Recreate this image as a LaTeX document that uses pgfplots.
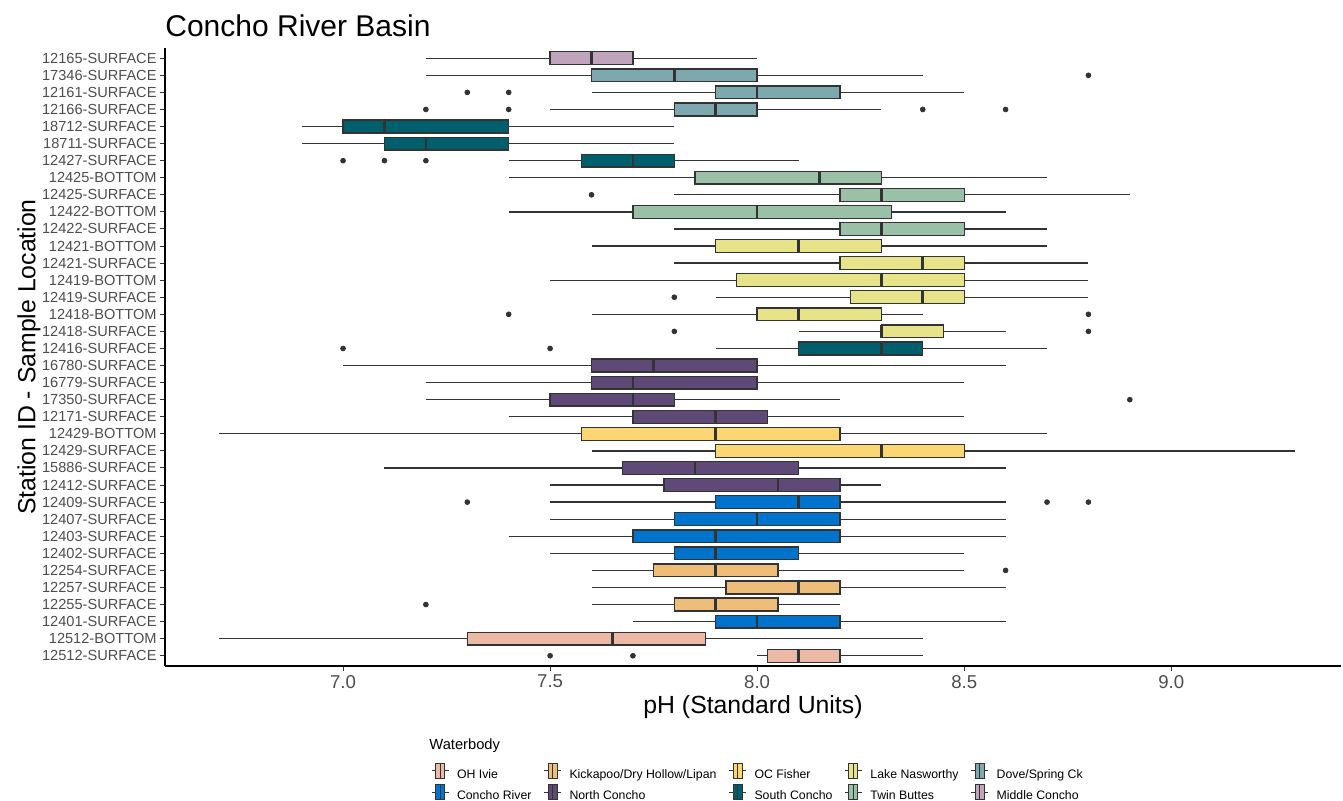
\documentclass[border=0pt]{standalone}
\usepackage{fontspec}
\setmainfont{Liberation Sans}
\usepackage{pgfplots}
\pgfplotsset{compat=1.18}
\usepgfplotslibrary{statistics}

\definecolor{gray20}{HTML}{333333}
\definecolor{gray30}{HTML}{4D4D4D}
\definecolor{ohivie}{HTML}{EBB9A6}
\definecolor{kickapoo}{HTML}{EDBD7A}
\definecolor{ocfisher}{HTML}{FBD672}
\definecolor{nasworthy}{HTML}{E7E388}
\definecolor{dovespring}{HTML}{7CA8AE}
\definecolor{conchoriver}{HTML}{0073CC}
\definecolor{northconcho}{HTML}{5F4A77}
\definecolor{southconcho}{HTML}{005F6D}
\definecolor{twinbuttes}{HTML}{9BC0A8}
\definecolor{middleconcho}{HTML}{BFA4BB}

% one box: position, colour, lower whisker, lower quartile, median, upper quartile, upper whisker
\newcommand{\bx}[7]{%
  \addplot[forget plot, fill=#2, draw=gray20, line width=0.65pt,
    boxplot prepared={draw position=#1, lower whisker=#3, lower quartile=#4,
      median=#5, upper quartile=#6, upper whisker=#7}] coordinates {};}

% legend key in the ggplot way
\newcommand{\wbkey}[1]{%
  \draw[gray20, line width=0.5pt] (0pt,2.2pt) -- (8.5pt,2.2pt);
  \draw[gray20, line width=0.5pt, fill=#1] (2pt,-1.5pt) rectangle (6.5pt,5.9pt);
  \draw[gray20, line width=0.5pt] (4.25pt,-1.5pt) -- (4.25pt,5.9pt);}

\begin{document}
\begin{tikzpicture}
\path[use as bounding box] (0,0) rectangle (671.5pt,-400.5pt);
\begin{axis}[
  at={(82.5pt,-24pt)}, anchor=north west,
  scale only axis, width=588pt, height=309pt,
  clip=false,
  xmin=6.57, xmax=9.41, ymin=0.4, ymax=36.6,
  axis lines=left, axis line style={-, black, line width=0.8pt},
  tick align=outside, major tick length=2.5pt,
  tick style={gray20, line width=0.5pt},
  xtick={7,7.5,8,8.5,9}, xticklabels={7.0,7.5,8.0,8.5,9.0},
  xticklabel style={font=\fontsize{9.3pt}{10pt}\selectfont, text=gray30, yshift=1.5pt},
  ytick={1,...,36},
  yticklabels={12512-SURFACE,12512-BOTTOM,12401-SURFACE,12255-SURFACE,12257-SURFACE,
    12254-SURFACE,12402-SURFACE,12403-SURFACE,12407-SURFACE,12409-SURFACE,
    12412-SURFACE,15886-SURFACE,12429-SURFACE,12429-BOTTOM,12171-SURFACE,
    17350-SURFACE,16779-SURFACE,16780-SURFACE,12416-SURFACE,12418-SURFACE,
    12418-BOTTOM,12419-SURFACE,12419-BOTTOM,12421-SURFACE,12421-BOTTOM,
    12422-SURFACE,12422-BOTTOM,12425-SURFACE,12425-BOTTOM,12427-SURFACE,
    18711-SURFACE,18712-SURFACE,12166-SURFACE,12161-SURFACE,17346-SURFACE,
    12165-SURFACE},
  yticklabel style={font=\fontsize{7.3pt}{8pt}\selectfont, text=gray30, xshift=1.8pt},
  xlabel={pH (Standard Units)},
  xlabel style={at={(axis description cs:0.5,-0.066)}, anchor=center,
    font=\fontsize{12.4pt}{14pt}\selectfont},
  ylabel={Station ID - Sample Location},
  ylabel style={at={(axis description cs:-0.1156,0.5)}, anchor=center,
    font=\fontsize{12.4pt}{14pt}\selectfont},
  title={Concho River Basin},
  title style={at={(axis description cs:0,1)}, anchor=base west, yshift=-0.4pt,
    inner sep=0pt, font=\fontsize{15pt}{18pt}\selectfont},
  boxplot/box extend=0.75,
  boxplot/whisker extend=0,
  boxplot/every median/.style={line width=1.3pt},
  legend columns=5,
  legend cell align=left,
  legend style={draw=none, fill=none, inner sep=0pt, outer sep=0pt,
    at={(axis description cs:0.2262,-0.157)}, anchor=north west,
    font=\fontsize{6.15pt}{7pt}\selectfont,
    row sep=1.6pt,
    nodes={inner sep=0pt},
    /tikz/every odd column/.append style={column sep=4pt},
    /tikz/every even column/.append style={column sep=6pt}},
]
% middle concho / dove-spring
\bx{36}{middleconcho}{7.2}{7.5}{7.6}{7.7}{8.0}
\bx{35}{dovespring}{7.2}{7.6}{7.8}{8.0}{8.4}
\bx{34}{dovespring}{7.6}{7.9}{8.0}{8.2}{8.5}
\bx{33}{dovespring}{7.5}{7.8}{7.9}{8.0}{8.3}
% south concho
\bx{32}{southconcho}{6.9}{7.0}{7.1}{7.4}{7.8}
\bx{31}{southconcho}{6.9}{7.1}{7.2}{7.4}{7.8}
\bx{30}{southconcho}{7.4}{7.575}{7.7}{7.8}{8.1}
% twin buttes
\bx{29}{twinbuttes}{7.4}{7.85}{8.15}{8.3}{8.7}
\bx{28}{twinbuttes}{7.8}{8.2}{8.3}{8.5}{8.9}
\bx{27}{twinbuttes}{7.4}{7.7}{8.0}{8.325}{8.6}
\bx{26}{twinbuttes}{7.8}{8.2}{8.3}{8.5}{8.7}
% lake nasworthy
\bx{25}{nasworthy}{7.6}{7.9}{8.1}{8.3}{8.7}
\bx{24}{nasworthy}{7.8}{8.2}{8.4}{8.5}{8.8}
\bx{23}{nasworthy}{7.5}{7.95}{8.3}{8.5}{8.8}
\bx{22}{nasworthy}{7.9}{8.225}{8.4}{8.5}{8.8}
\bx{21}{nasworthy}{7.6}{8.0}{8.1}{8.3}{8.4}
\bx{20}{nasworthy}{8.1}{8.3}{8.3}{8.45}{8.6}
\bx{19}{southconcho}{7.9}{8.1}{8.3}{8.4}{8.7}
% north concho
\bx{18}{northconcho}{7.0}{7.6}{7.75}{8.0}{8.6}
\bx{17}{northconcho}{7.2}{7.6}{7.7}{8.0}{8.5}
\bx{16}{northconcho}{7.2}{7.5}{7.7}{7.8}{8.2}
\bx{15}{northconcho}{7.4}{7.7}{7.9}{8.025}{8.5}
% oc fisher
\bx{14}{ocfisher}{6.7}{7.575}{7.9}{8.2}{8.7}
\bx{13}{ocfisher}{7.6}{7.9}{8.3}{8.5}{9.3}
\bx{12}{northconcho}{7.1}{7.675}{7.85}{8.1}{8.6}
\bx{11}{northconcho}{7.5}{7.775}{8.05}{8.2}{8.3}
% concho river
\bx{10}{conchoriver}{7.5}{7.9}{8.1}{8.2}{8.6}
\bx{9}{conchoriver}{7.5}{7.8}{8.0}{8.2}{8.6}
\bx{8}{conchoriver}{7.4}{7.7}{7.9}{8.2}{8.6}
\bx{7}{conchoriver}{7.5}{7.8}{7.9}{8.1}{8.5}
% kickapoo
\bx{6}{kickapoo}{7.6}{7.75}{7.9}{8.05}{8.5}
\bx{5}{kickapoo}{7.6}{7.925}{8.1}{8.2}{8.6}
\bx{4}{kickapoo}{7.6}{7.8}{7.9}{8.05}{8.2}
\bx{3}{conchoriver}{7.7}{7.9}{8.0}{8.2}{8.6}
% oh ivie
\bx{2}{ohivie}{6.7}{7.3}{7.65}{7.875}{8.4}
\bx{1}{ohivie}{8.0}{8.025}{8.1}{8.2}{8.4}

% outliers
\addplot[forget plot, only marks, mark=*, mark size=1.2pt, color=gray20] coordinates {
(8.8,35) (7.3,34) (7.4,34) (7.2,33) (7.4,33) (8.4,33) (8.6,33)
(7.0,30) (7.1,30) (7.2,30) (7.6,28)
(7.8,22) (7.4,21) (8.8,21) (7.8,20) (8.8,20) (7.0,19) (7.5,19)
(8.9,16) (7.3,10) (8.7,10) (8.8,10) (8.6,6) (7.2,4) (7.5,1) (7.7,1)
};

% legend, filled row by row
\addlegendimage{legend image code/.code={\wbkey{ohivie}}}
\addlegendentry{OH Ivie}
\addlegendimage{legend image code/.code={\wbkey{kickapoo}}}
\addlegendentry{Kickapoo/Dry Hollow/Lipan}
\addlegendimage{legend image code/.code={\wbkey{ocfisher}}}
\addlegendentry{OC Fisher}
\addlegendimage{legend image code/.code={\wbkey{nasworthy}}}
\addlegendentry{Lake Nasworthy}
\addlegendimage{legend image code/.code={\wbkey{dovespring}}}
\addlegendentry{Dove/Spring Ck}
\addlegendimage{legend image code/.code={\wbkey{conchoriver}}}
\addlegendentry{Concho River}
\addlegendimage{legend image code/.code={\wbkey{northconcho}}}
\addlegendentry{North Concho}
\addlegendimage{legend image code/.code={\wbkey{southconcho}}}
\addlegendentry{South Concho}
\addlegendimage{legend image code/.code={\wbkey{twinbuttes}}}
\addlegendentry{Twin Buttes}
\addlegendimage{legend image code/.code={\wbkey{middleconcho}}}
\addlegendentry{Middle Concho}

\node[anchor=west, inner sep=0pt, font=\fontsize{7.35pt}{9pt}\selectfont]
  at (axis description cs:0.2245,-0.1294) {Waterbody};
\end{axis}
\end{tikzpicture}
\end{document}
